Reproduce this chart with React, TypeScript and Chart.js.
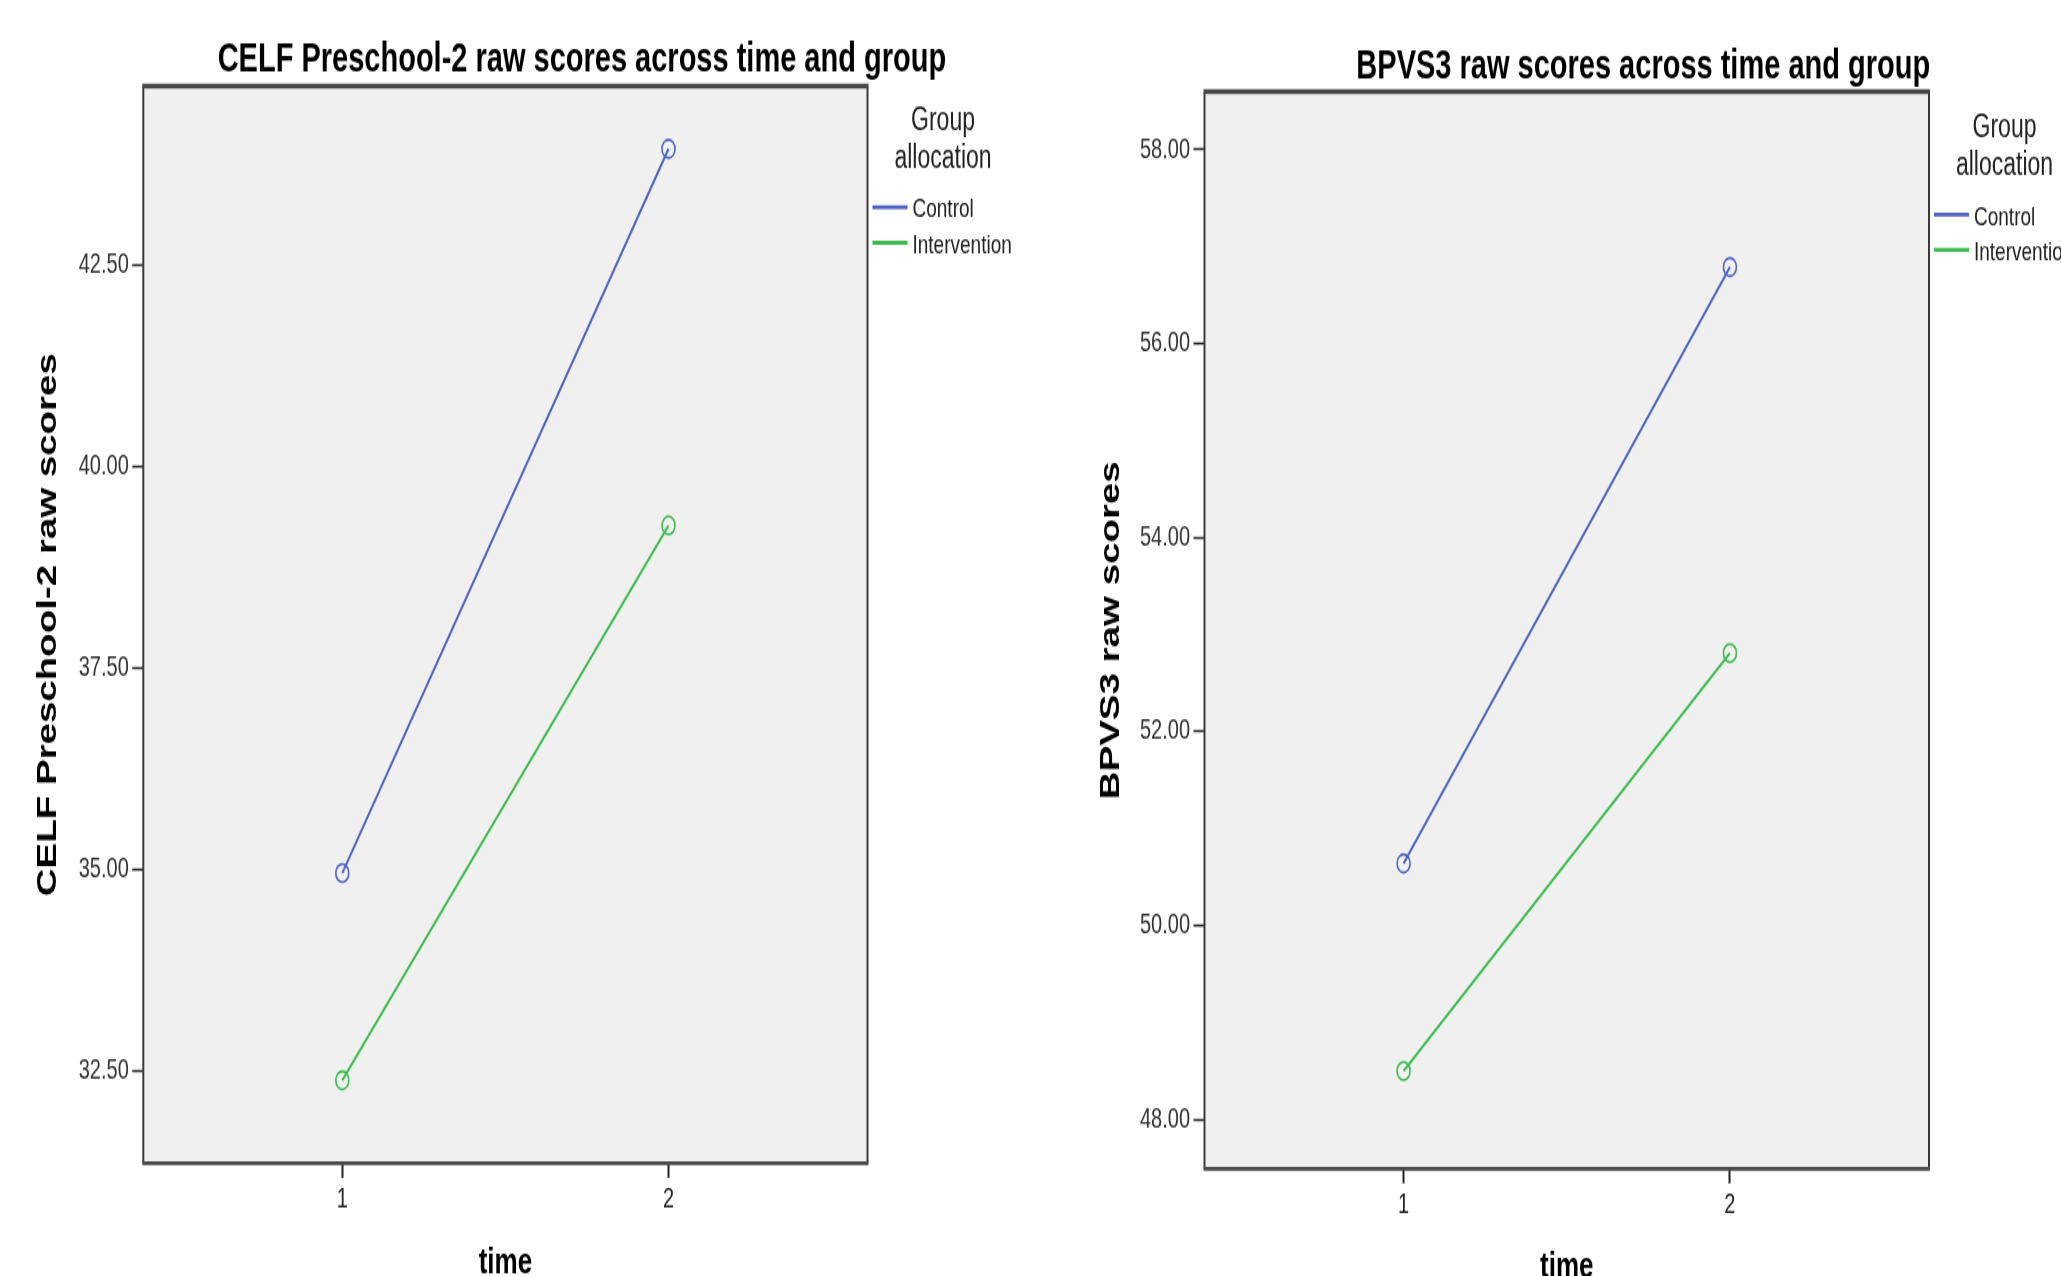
import React, { useEffect, useRef } from 'react';
import { Chart, registerables } from 'chart.js';

Chart.register(...registerables);

// ---------------- data ----------------
const timePoints = [1, 2];
const timeTickLabels = ['1', '2'];
const timeRange = [0.39, 2.61];
const groupLabels = ['Control', 'Intervention'];
const groupColors = ['#4F63C3', '#3DBB4E'];
const legendTitle = ['Group', 'allocation'];

const celfTitle = 'CELF Preschool-2 raw scores across time and group';
const celfAxisTitle = 'CELF Preschool-2 raw scores';
const celfControl = [34.96, 43.94];
const celfIntervention = [32.39, 39.27];
const celfTicks = [32.5, 35, 37.5, 40, 42.5];
const celfRange = [31.37, 44.71];

const bpvsTitle = 'BPVS3 raw scores across time and group';
const bpvsAxisTitle = 'BPVS3 raw scores';
const bpvsControl = [50.64, 56.79];
const bpvsIntervention = [48.5, 52.81];
const bpvsTicks = [48, 50, 52, 54, 56, 58];
const bpvsRange = [47.5, 58.59];

const xAxisTitle = 'time';

// ---------------- styling ----------------
const CANVAS_H = 912;
const STRETCH = 1276 / CANVAS_H;
const FONT = '"Liberation Sans", Arial, Helvetica, sans-serif';

const spssPanel = {
  id: 'spssPanel',
  beforeDraw(chart: any) {
    const { ctx, chartArea: a, width, height } = chart;
    ctx.save();
    ctx.fillStyle = '#ffffff';
    ctx.fillRect(0, 0, width, height);
    ctx.fillStyle = '#F0F0F0';
    ctx.fillRect(a.left, a.top, a.right - a.left, a.bottom - a.top);
    ctx.restore();
  },
  afterDraw(chart: any, _args: any, opts: any) {
    const { ctx, chartArea: a } = chart;
    ctx.save();
    // frame
    ctx.strokeStyle = '#3a3a3a';
    ctx.lineWidth = 2;
    ctx.beginPath();
    ctx.moveTo(a.left, a.top);
    ctx.lineTo(a.left, a.bottom);
    ctx.moveTo(a.right, a.top);
    ctx.lineTo(a.right, a.bottom);
    ctx.stroke();
    ctx.strokeStyle = '#484848';
    ctx.lineWidth = 3.5;
    ctx.beginPath();
    ctx.moveTo(a.left - 1, a.top - 0.5);
    ctx.lineTo(a.right + 1, a.top - 0.5);
    ctx.stroke();
    ctx.lineWidth = 2.8;
    ctx.beginPath();
    ctx.moveTo(a.left - 1, a.bottom + 0.5);
    ctx.lineTo(a.right + 1, a.bottom + 0.5);
    ctx.stroke();

    // chart title
    ctx.fillStyle = '#000';
    ctx.font = `bold 29px ${FONT}`;
    ctx.textAlign = 'center';
    ctx.textBaseline = 'alphabetic';
    ctx.fillText(opts.title, (a.left + a.right) / 2 + 76.5, a.top - opts.titleDy);

    // legend
    const lx = a.right;
    const ly = a.top + opts.legendDy;
    ctx.fillStyle = '#222';
    ctx.font = `23px ${FONT}`;
    ctx.textBaseline = 'middle';
    opts.legendTitle.forEach((line: string, i: number) => {
      ctx.fillText(line, lx + 75.5, ly + 25 + i * 26.5);
    });
    ctx.textAlign = 'left';
    ctx.font = `19px ${FONT}`;
    chart.data.datasets.forEach((ds: any, i: number) => {
      const y = ly + 86.2 + i * 25.3;
      ctx.strokeStyle = ds.borderColor;
      ctx.lineWidth = 2.8;
      ctx.beginPath();
      ctx.moveTo(lx + 5, y);
      ctx.lineTo(lx + 40, y);
      ctx.stroke();
      ctx.fillStyle = '#222';
      ctx.fillText(ds.label, lx + 45, y + 2);
    });
    ctx.restore();
  },
};

type PanelProps = {
  pageLeft: number;
  canvasWidth: number;
  title: string;
  yTitle: string;
  series: number[][];
  yTicks: number[];
  yRange: number[];
  padTop: number;
  padRight: number;
  yAxisWidth: number;
  xAxisHeight: number;
  yTitlePad: number;
  xTitlePad: number;
  titleDy: number;
  legendDy: number;
};

function Panel(p: PanelProps) {
  const ref = useRef<HTMLCanvasElement>(null);
  useEffect(() => {
    const canvas = ref.current!;
    const chart = new Chart(canvas, {
      type: 'line',
      data: {
        datasets: p.series.map((vals, i) => ({
          label: groupLabels[i],
          data: timePoints.map((t, j) => ({ x: t, y: vals[j] })),
          borderColor: groupColors[i],
          backgroundColor: 'rgba(0,0,0,0)',
          borderWidth: 2,
          pointRadius: 6.5,
          pointBorderWidth: 1.6,
          pointBorderColor: groupColors[i],
          pointBackgroundColor: 'rgba(0,0,0,0)',
          tension: 0,
          fill: false,
        })),
      },
      options: {
        responsive: false,
        maintainAspectRatio: false,
        animation: false,
        layout: { padding: { top: p.padTop, right: p.padRight, left: 0, bottom: 0 } },
        plugins: {
          legend: { display: false },
          tooltip: { enabled: false },
          title: { display: false },
          spssPanel: { title: p.title, legendTitle, titleDy: p.titleDy, legendDy: p.legendDy },
        } as any,
        scales: {
          x: {
            type: 'linear',
            min: timeRange[0],
            max: timeRange[1],
            bounds: 'data',
            afterBuildTicks: (s: any) => {
              s.ticks = timePoints.map((v) => ({ value: v }));
            },
            afterFit: (s: any) => {
              s.height = p.xAxisHeight;
            },
            ticks: {
              callback: (_v: any, i: number) => timeTickLabels[i],
              font: { family: FONT, size: 20 },
              color: '#222',
              padding: 3.5,
              maxRotation: 0,
            },
            grid: {
              drawOnChartArea: false,
              drawTicks: true,
              tickLength: 11,
              tickColor: '#222',
              tickWidth: 2,
            },
            border: { display: false },
            title: {
              display: true,
              text: xAxisTitle,
              color: '#000',
              font: { family: FONT, size: 26, weight: 'bold', lineHeight: 1.2 },
              padding: { top: 0, bottom: p.xTitlePad },
            },
          } as any,
          y: {
            type: 'linear',
            min: p.yRange[0],
            max: p.yRange[1],
            bounds: 'data',
            afterBuildTicks: (s: any) => {
              s.ticks = p.yTicks.map((v) => ({ value: v }));
            },
            afterFit: (s: any) => {
              s.width = p.yAxisWidth;
            },
            ticks: {
              callback: (v: any) => Number(v).toFixed(2),
              font: { family: FONT, size: 20 },
              color: '#333',
              padding: 3.5,
            },
            grid: {
              drawOnChartArea: false,
              drawTicks: true,
              tickLength: 11,
              tickColor: '#222',
              tickWidth: 1.6,
            },
            border: { display: false },
            title: {
              display: true,
              text: p.yTitle,
              color: '#000',
              font: { family: FONT, size: 27.5, weight: 'bold', lineHeight: 1.2 },
              padding: { top: p.yTitlePad, bottom: 0 },
            },
          } as any,
        },
      },
      plugins: [spssPanel],
    });
    return () => chart.destroy();
  }, []);
  return (
    <canvas
      ref={ref}
      width={p.canvasWidth}
      height={CANVAS_H}
      style={{
        position: 'absolute',
        left: p.pageLeft,
        top: 0,
        transform: `scaleY(${STRETCH})`,
        transformOrigin: '0 0',
      }}
    />
  );
}

export default function App() {
  return (
    <div
      style={{
        position: 'absolute',
        left: 0,
        top: 0,
        width: 2061,
        height: 1276,
        overflow: 'hidden',
        background: '#ffffff',
      }}
    >
      <Panel
        pageLeft={0}
        canvasWidth={1030}
        title={celfTitle}
        yTitle={celfAxisTitle}
        series={[celfControl, celfIntervention]}
        yTicks={celfTicks}
        yRange={celfRange}
        padTop={62}
        padRight={162.5}
        yAxisWidth={143.3}
        xAxisHeight={81.1}
        yTitlePad={32.4}
        xTitlePad={-6.8}
        titleDy={10.8}
        legendDy={0}
      />
      <Panel
        pageLeft={1030}
        canvasWidth={1031}
        title={bpvsTitle}
        yTitle={bpvsAxisTitle}
        series={[bpvsControl, bpvsIntervention]}
        yTicks={bpvsTicks}
        yRange={bpvsRange}
        padTop={66.1}
        padRight={132}
        yAxisWidth={174.5}
        xAxisHeight={77.2}
        yTitlePad={64.5}
        xTitlePad={-9}
        titleDy={10.1}
        legendDy={1}
      />
    </div>
  );
}
